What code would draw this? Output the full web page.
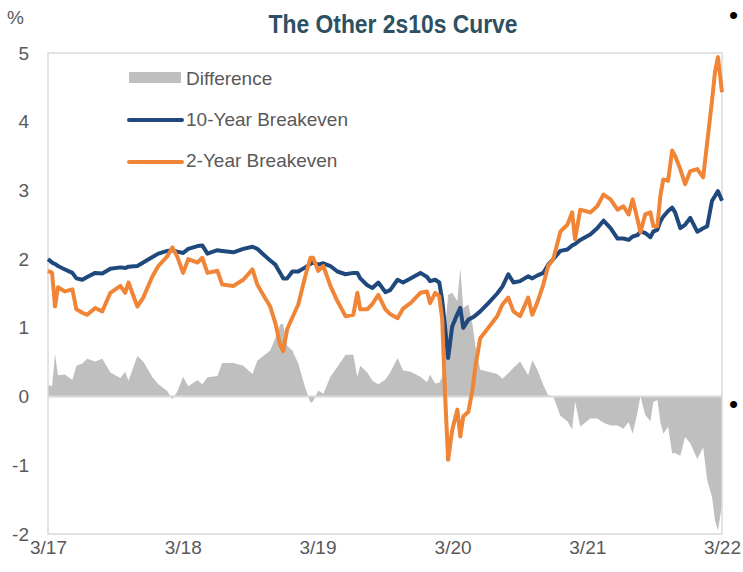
<!DOCTYPE html>
<html>
<head>
<meta charset="utf-8">
<script src="https://cdn.jsdelivr.net/npm/d3@7"></script>
<style>
	body { margin: 0; background: #fff; }
	text { font-family: "Liberation Sans", Arial, sans-serif; }
</style>
</head>
<body>
<div id="chart"></div>
<script>
const dates = [
	"2017-03-31", "2017-04-11", "2017-04-19", "2017-04-27", "2017-05-16", "2017-06-05",
	"2017-06-16", "2017-07-02", "2017-07-15", "2017-08-06", "2017-08-25", "2017-09-16",
	"2017-10-13", "2017-10-26", "2017-11-04", "2017-11-28", "2017-12-14", "2018-01-08",
	"2018-01-24", "2018-02-17", "2018-03-03", "2018-03-16", "2018-04-01", "2018-04-15",
	"2018-05-10", "2018-05-23", "2018-06-06", "2018-07-03", "2018-07-16", "2018-08-15",
	"2018-09-11", "2018-10-06", "2018-10-19", "2018-11-04", "2018-11-23", "2018-12-07",
	"2018-12-20", "2018-12-28", "2019-01-08", "2019-01-22", "2019-02-07", "2019-02-26",
	"2019-03-12", "2019-03-19", "2019-04-02", "2019-04-16", "2019-05-05", "2019-05-24",
	"2019-06-15", "2019-07-06", "2019-07-17", "2019-07-25", "2019-08-13", "2019-08-27",
	"2019-09-12", "2019-10-01", "2019-10-14", "2019-11-03", "2019-11-18", "2019-12-08",
	"2020-01-04", "2020-01-22", "2020-01-30", "2020-02-13", "2020-02-24", "2020-03-03",
	"2020-03-11", "2020-03-19", "2020-03-30", "2020-04-13", "2020-04-21", "2020-04-29",
	"2020-05-13", "2020-05-24", "2020-06-01", "2020-06-14", "2020-07-06", "2020-07-30",
	"2020-08-13", "2020-08-29", "2020-09-12", "2020-09-30", "2020-10-22", "2020-11-02",
	"2020-11-15", "2020-12-02", "2020-12-15", "2020-12-29", "2021-01-17", "2021-02-05",
	"2021-02-18", "2021-02-26", "2021-03-12", "2021-04-08", "2021-04-27", "2021-05-14",
	"2021-06-02", "2021-06-21", "2021-07-07", "2021-07-21", "2021-08-01", "2021-08-14",
	"2021-08-22", "2021-09-04", "2021-09-18", "2021-09-26", "2021-10-07", "2021-10-15",
	"2021-10-23", "2021-11-05", "2021-11-16", "2021-11-24", "2021-12-08", "2021-12-21",
	"2022-01-04", "2022-01-23", "2022-02-08", "2022-02-19", "2022-03-04", "2022-03-12",
	"2022-03-20", "2022-03-31",
];

// 10-Year Breakeven, %
const tenYear = [
	2.0, 1.95, 1.93, 1.9, 1.85, 1.8, 1.72, 1.7, 1.74, 1.8, 1.79, 1.86,
	1.88, 1.87, 1.89, 1.9, 1.95, 2.03, 2.08, 2.12, 2.13, 2.11, 2.09, 2.15,
	2.19, 2.2, 2.08, 2.13, 2.12, 2.1, 2.15, 2.18, 2.15, 2.07, 1.98, 1.92,
	1.8, 1.72, 1.72, 1.82, 1.82, 1.88, 1.93, 1.95, 1.92, 1.94, 1.9, 1.82,
	1.78, 1.8, 1.8, 1.72, 1.62, 1.58, 1.66, 1.52, 1.55, 1.7, 1.66, 1.72,
	1.8, 1.74, 1.68, 1.7, 1.66, 1.4, 1.0, 0.56, 1.02, 1.2, 1.29, 1.0,
	1.12, 1.15, 1.18, 1.24, 1.36, 1.5, 1.6, 1.78, 1.66, 1.68, 1.75, 1.72,
	1.76, 1.8, 1.92, 2.0, 2.12, 2.14, 2.2, 2.22, 2.28, 2.36, 2.45, 2.56,
	2.45, 2.3, 2.3, 2.28, 2.33, 2.35, 2.4, 2.38, 2.32, 2.4, 2.43, 2.55,
	2.62, 2.7, 2.75, 2.68, 2.45, 2.5, 2.6, 2.4, 2.45, 2.48, 2.85, 2.92,
	2.99, 2.85,
];

// 2-Year Breakeven, %
const twoYear = [
	1.83, 1.8, 1.31, 1.59, 1.53, 1.56, 1.27, 1.22, 1.19, 1.29, 1.24, 1.51,
	1.61, 1.51, 1.66, 1.31, 1.44, 1.75, 1.9, 2.04, 2.17, 2.04, 1.8, 2.0,
	1.95, 2.02, 1.8, 1.83, 1.63, 1.61, 1.7, 1.85, 1.63, 1.48, 1.31, 1.07,
	0.75, 0.66, 0.98, 1.15, 1.34, 1.75, 2.02, 2.02, 1.83, 1.9, 1.61, 1.39,
	1.17, 1.19, 1.51, 1.27, 1.27, 1.35, 1.48, 1.27, 1.2, 1.14, 1.28, 1.36,
	1.51, 1.53, 1.36, 1.51, 1.46, 1.12, 0.0, -0.92, -0.49, -0.19, -0.58, -0.29,
	-0.22, 0.1, 0.44, 0.85, 1.0, 1.17, 1.34, 1.44, 1.24, 1.17, 1.44, 1.19,
	1.36, 1.63, 1.9, 2.0, 2.4, 2.5, 2.68, 2.29, 2.72, 2.68, 2.77, 2.94,
	2.87, 2.72, 2.77, 2.65, 2.87, 2.58, 2.39, 2.65, 2.68, 2.48, 2.48, 2.92,
	3.16, 3.14, 3.58, 3.5, 3.31, 3.09, 3.28, 3.31, 3.19, 3.7, 4.31, 4.72,
	4.94, 4.43,
];

const yTicks = [-2, -1, 0, 1, 2, 3, 4, 5];
const xTicks = ["2017-03-31", "2018-03-31", "2019-03-31", "2020-03-31", "2021-03-31", "2022-03-31"];
const legendLabels = ["Difference", "10-Year Breakeven", "2-Year Breakeven"];

const width = 743;
const height = 572;
const margin = { top: 53, right: 21, bottom: 38, left: 48 };

const parse = d3.timeParse("%Y-%m-%d");

// difference = 10y minus 2y
const rows = dates.map((d, i) => ({
	date: parse(d),
	ten: tenYear[i],
	two: twoYear[i],
	diff: tenYear[i] - twoYear[i],
}));

const svg = d3
	.select("#chart")
	.append("svg")
	.attr("width", width)
	.attr("height", height);

const x = d3
	.scaleTime()
	.domain([parse(xTicks[0]), parse(xTicks[xTicks.length - 1])])
	.range([margin.left, width - margin.right]);

const y = d3
	.scaleLinear()
	.domain([-2, 5])
	.range([height - margin.bottom, margin.top]);

// difference area
svg.append("path")
	.datum(rows)
	.attr("fill", "#bfbfbf")
	.attr(
		"d",
		d3
			.area()
			.x((d) => x(d.date))
			.y0(y(0))
			.y1((d) => y(d.diff))
	);

// frame
svg.append("rect")
	.attr("x", margin.left)
	.attr("y", margin.top)
	.attr("width", width - margin.left - margin.right)
	.attr("height", height - margin.top - margin.bottom)
	.attr("fill", "none")
	.attr("stroke", "#d9d9d9")
	.attr("stroke-width", 1.5);

// zero line
svg.append("line")
	.attr("x1", margin.left)
	.attr("x2", width - margin.right)
	.attr("y1", y(0))
	.attr("y2", y(0))
	.attr("stroke", "#d9d9d9")
	.attr("stroke-width", 2);

const line = (key) =>
	d3
		.line()
		.x((d) => x(d.date))
		.y((d) => y(d[key]));

svg.append("path")
	.datum(rows)
	.attr("fill", "none")
	.attr("stroke", "#1f497d")
	.attr("stroke-width", 4)
	.attr("stroke-linejoin", "round")
	.attr("d", line("ten"));

svg.append("path")
	.datum(rows)
	.attr("fill", "none")
	.attr("stroke", "#f08537")
	.attr("stroke-width", 4)
	.attr("stroke-linejoin", "round")
	.attr("d", line("two"));

// axes (no domain / tick lines, just labels) - plain hyphen for negatives
const yAxis = d3
	.axisLeft(y)
	.tickValues(yTicks)
	.tickFormat((d) => String(d))
	.tickSize(0)
	.tickPadding(19);
svg.append("g")
	.attr("transform", `translate(${margin.left},0)`)
	.call(yAxis)
	.call((g) => g.select(".domain").remove())
	.selectAll("text")
	.attr("fill", "#595959")
	.style("font-size", "19px");

const xAxis = d3
	.axisBottom(x)
	.tickValues(xTicks.map(parse))
	.tickFormat(d3.timeFormat("%-m/%y"))
	.tickSize(0)
	.tickPadding(7);
svg.append("g")
	.attr("transform", `translate(0,${height - margin.bottom})`)
	.call(xAxis)
	.call((g) => g.select(".domain").remove())
	.selectAll("text")
	.attr("fill", "#595959")
	.style("font-size", "19px");

svg.append("text")
	.attr("x", 7)
	.attr("y", 24)
	.attr("fill", "#595959")
	.style("font-size", "19px")
	.text("%");

// title
svg.append("text")
	.attr("x", 393)
	.attr("y", 33)
	.attr("text-anchor", "middle")
	.attr("fill", "#2d5062")
	.attr("textLength", 249)
	.attr("lengthAdjust", "spacingAndGlyphs")
	.style("font-family", "'Liberation Sans Narrow', 'Liberation Sans', Arial, sans-serif")
	.style("font-weight", "bold")
	.style("font-size", "26px")
	.text("The Other 2s10s Curve");

// legend
const legend = svg.append("g").attr("transform", "translate(129,78)");
legend.append("rect")
	.attr("x", 0)
	.attr("y", -6)
	.attr("width", 52)
	.attr("height", 11)
	.attr("fill", "#bfbfbf");
legend.append("line")
	.attr("x1", 0).attr("x2", 53)
	.attr("y1", 42).attr("y2", 42)
	.attr("stroke", "#1f497d")
	.attr("stroke-width", 4)
	.attr("stroke-linecap", "round");
legend.append("line")
	.attr("x1", 0).attr("x2", 53)
	.attr("y1", 84).attr("y2", 84)
	.attr("stroke", "#f08537")
	.attr("stroke-width", 4)
	.attr("stroke-linecap", "round");
legend
	.selectAll("text.lab")
	.data(legendLabels)
	.enter()
	.append("text")
	.attr("class", "lab")
	.attr("x", 57)
	.attr("y", (d, i) => i * 41 + 7)
	.attr("fill", "#595959")
	.style("font-size", "19px")
	.text((d) => d);

// stray slide bullets at right edge
svg.selectAll("text.bullet")
	.data([24, 413])
	.enter()
	.append("text")
	.attr("class", "bullet")
	.attr("x", 729)
	.attr("y", (d) => d)
	.attr("fill", "#000")
	.style("font-size", "26px")
	.text("•");
</script>
</body>
</html>
